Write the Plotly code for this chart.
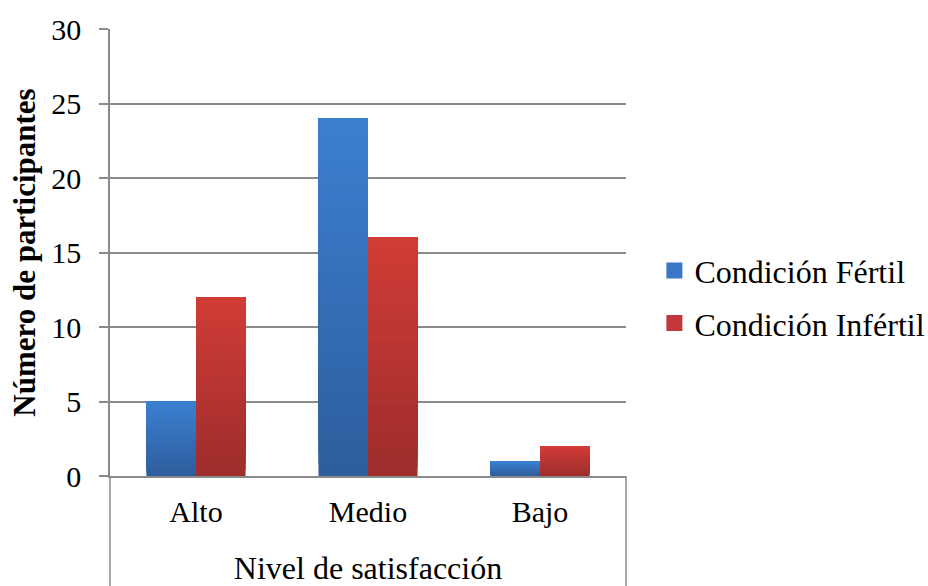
import plotly.graph_objects as go

# Data
categorias = ["Alto", "Medio", "Bajo"]
fertil = [5, 24, 1]
infertil = [12, 16, 2]
series_nombres = ["Condición Fértil", "Condición Infértil"]

FONT = "Liberation Serif, Times New Roman, serif"
GRID = "#8a8a8a"

# Vertical gradient per series: (top colour, bottom colour)
gradientes = [((59, 128, 209), (46, 93, 157)), ((210, 60, 55), (157, 45, 43))]
legend_color = ["#3a77c6", "#c3383a"]
N_LAYERS = 30


def mix(c_top, c_bot, t):
    # t = 0 -> bottom, t = 1 -> top
    r = [round(b + (a - b) * t) for a, b in zip(c_top, c_bot)]
    return f"rgb({r[0]},{r[1]},{r[2]})"


fig = go.Figure()

for idx, (nombre, valores) in enumerate(zip(series_nombres, [fertil, infertil])):
    top, bot = gradientes[idx]
    # Overlapping layers: each layer covers from a fraction of the bar up to its top,
    # getting lighter towards the top, which renders a smooth gradient.
    for k in range(N_LAYERS):
        f = k / N_LAYERS
        fig.add_trace(go.Bar(
            x=categorias,
            y=[v * (1 - f) for v in valores],
            base=[v * f for v in valores],
            offsetgroup=str(idx),
            marker=dict(color=mix(top, bot, (k + 0.5) / N_LAYERS), line=dict(width=0)),
            showlegend=False,
            hoverinfo="skip",
        ))

# Legend entries (square swatches)
for idx, nombre in enumerate(series_nombres):
    fig.add_trace(go.Scatter(
        x=[None], y=[None], mode="markers", name=nombre,
        marker=dict(symbol="square", size=16, color=legend_color[idx]),
        legendgroup=str(idx),
    ))

fig.update_layout(
    width=928, height=586,
    margin=dict(l=110, r=302, t=29, b=110, autoexpand=False),
    paper_bgcolor="white", plot_bgcolor="white",
    barmode="group", bargap=0.424, bargroupgap=0,
    font=dict(family=FONT, color="black", size=30),
    showlegend=True,
    legend=dict(
        x=1.055, xanchor="left", y=0.4, yanchor="middle",
        font=dict(family=FONT, size=32, color="black"),
        tracegroupgap=8, traceorder="grouped",
        bgcolor="rgba(0,0,0,0)",
    ),
    xaxis=dict(
        showline=True, linecolor=GRID, linewidth=1.5,
        ticks="", showgrid=False,
        tickfont=dict(family=FONT, size=30, color="black"),
        ticklabelstandoff=8,
        title=dict(text="Nivel de satisfacción", font=dict(family=FONT, size=32, color="black"),
                   standoff=32),
    ),
    yaxis=dict(
        range=[0, 30], dtick=5, tick0=0,
        showline=True, linecolor=GRID, linewidth=1.5,
        showgrid=True, gridcolor=GRID, gridwidth=1.5,
        ticks="outside", ticklen=9, tickcolor=GRID, tickwidth=1.5,
        tickfont=dict(family=FONT, size=30, color="black"), ticklabelstandoff=12,
        zeroline=False,
        title=dict(text="<b>Número de participantes</b>",
                   font=dict(family=FONT, size=31, color="black"), standoff=6),
    ),
)

# Box lines framing the category-label area below the plot
for xp in (0, 1):
    fig.add_shape(type="line", xref="paper", yref="paper",
                  x0=xp, x1=xp, y0=0, y1=-0.3,
                  line=dict(color=GRID, width=1.5))

fig.write_html("out.html")
